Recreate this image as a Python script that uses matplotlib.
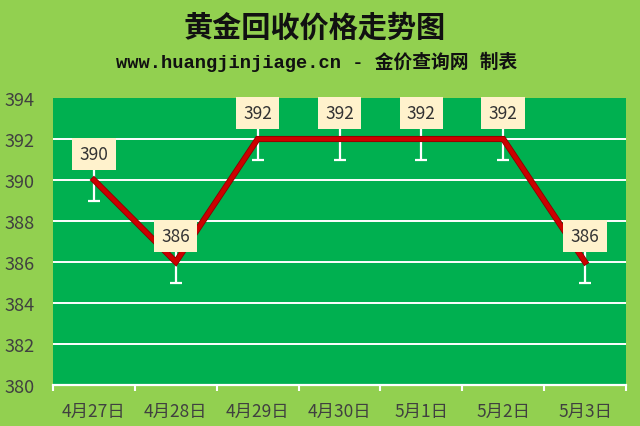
import matplotlib
matplotlib.use("Agg")
import matplotlib.pyplot as plt
import matplotlib.patheffects as pe

dates = ["4月27日", "4月28日", "4月29日", "4月30日", "5月1日", "5月2日", "5月3日"]
prices = [390, 386, 392, 392, 392, 392, 386]
err = [1, 1, 1, 1, 1, 1, 1]
yticks = [380, 382, 384, 386, 388, 390, 392, 394]

plt.rcParams['font.family'] = ['Noto Sans CJK SC', 'DejaVu Sans']

fig = plt.figure(figsize=(6.4, 4.27), dpi=100)
fig.patch.set_facecolor('#92D050')
ax = fig.add_axes([53/640, 41/427, 573/640, 287/427])
ax.set_facecolor('#00B050')

x = list(range(len(dates)))
ax.set_xlim(-0.5, len(dates) - 0.5)
ax.set_ylim(380, 394)
ax.set_yticks(yticks)
ax.set_yticklabels([str(v) for v in yticks])
for v in yticks[1:-1]:
    ax.axhline(v, color='white', lw=1.4, zorder=1)

ax.errorbar(x, prices, yerr=err, fmt='none', ecolor='white', elinewidth=1.6,
            capsize=4, capthick=1.6, zorder=2)
ax.plot(x, prices, color='#CC0000', lw=3.2, solid_joinstyle='miter', zorder=3,
        path_effects=[pe.Stroke(linewidth=4.4, foreground='#8B0000'), pe.Normal()])

for xi, p in zip(x, prices):
    ax.text(xi, p + 1.27, str(p), ha='center', va='center', fontsize=12.5,
            color='#333333', zorder=5,
            bbox=dict(boxstyle='square,pad=0.42', fc='#FFF2CC', ec='none'))

for s in ['top', 'right', 'left']:
    ax.spines[s].set_visible(False)
ax.spines['bottom'].set_color('white')
ax.spines['bottom'].set_linewidth(1.6)

ax.set_xticks(x)
ax.set_xticklabels(dates)
ax.tick_params(axis='x', length=0, labelsize=12.5, labelcolor='#404040', pad=12)
ax.set_xticks([i - 0.5 for i in range(len(dates) + 1)], minor=True)
ax.tick_params(axis='x', which='minor', length=4, width=1.5, color='white', direction='out')
ax.tick_params(axis='y', length=0, labelsize=13, labelcolor='#404040', pad=13)

fig.text(0.492, 1 - 28/427, "黄金回收价格走势图", ha='center', va='center',
         fontsize=21, fontweight='bold', color='#111111')
fig.text(0.494, 1 - 62/427, "www.huangjinjiage.cn - 金价查询网 制表", ha='center', va='center',
         fontsize=13.5, fontweight='bold', color='#111111',
         family=['Liberation Mono', 'Noto Sans CJK SC'])

fig.savefig('out.png', dpi=100, facecolor=fig.get_facecolor())
